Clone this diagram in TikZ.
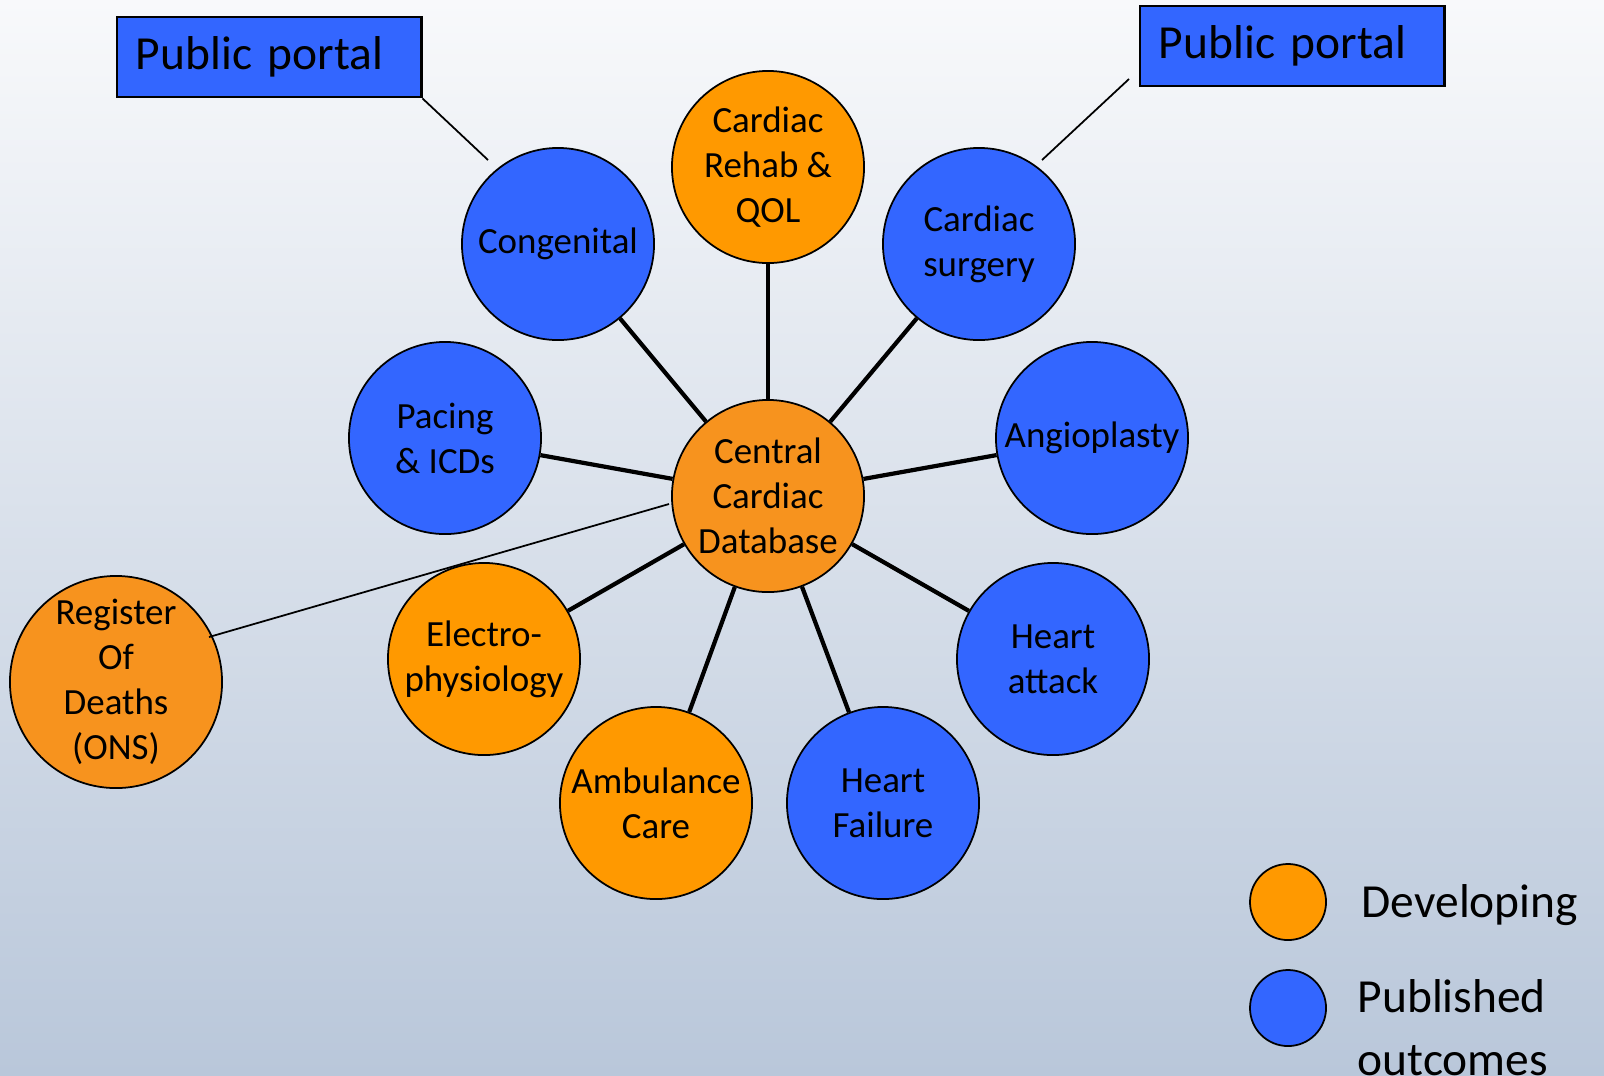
\documentclass[tikz,border=0pt]{standalone}
\usepackage{fontspec}
\setmainfont{Carlito}
\usepackage{tikz}
\usetikzlibrary{positioning}
\definecolor{pubblue}{HTML}{3366FF}
\definecolor{devorange}{HTML}{FF9900}
\definecolor{dborange}{HTML}{F7931E}
\definecolor{bgtop}{HTML}{F8F9FB}
\definecolor{bgbottom}{HTML}{B9C7DA}
\tikzstyle{topic} = [circle, draw=black, line width=0.5pt, minimum size=1.92cm, inner sep=0pt, align=center, font=\fontsize{10.5}{12.8}\selectfont]
\tikzstyle{published} = [topic, fill=pubblue]
\tikzstyle{developing} = [topic, fill=devorange]
\tikzstyle{central} = [topic, fill=dborange]
\tikzstyle{portal} = [rectangle, draw=black, line width=0.8pt, fill=pubblue, inner xsep=0.19cm, text width=2.66cm, align=left, minimum height=0.8cm, font=\fontsize{13.5}{16}\selectfont]
\tikzstyle{legenddot} = [circle, draw=black, line width=0.5pt, minimum size=0.76cm, inner sep=0pt]
\tikzstyle{legendtext} = [anchor=west, inner sep=0pt, align=left, font=\fontsize{13.5}{18}\selectfont]
\tikzstyle{spoke} = [line width=1.2pt]
\tikzstyle{link} = [line width=0.5pt]

\begin{document}
\begin{tikzpicture}[x=0.01cm, y=-0.01cm]

% Background
\shade[top color=bgtop, bottom color=bgbottom] (0,0) rectangle (1604,1075);
\useasboundingbox (0,0) rectangle (1604,1075);
\clip (0,0) rectangle (1604,1075);

% Central box
\node (db) [central] at (768,496) {Central\\Cardiac\\Database};

% Ring of registries
\node (rehab) [developing] at (768,167) {Cardiac\\Rehab \&\\QOL};
\node (cong) [published] at (558,244) {Congenital};
\node (surg) [published] at (979,244) {Cardiac\\surgery};
\node (pace) [published] at (445,438) {Pacing\\\& ICDs};
\node (angio) [published] at (1092,438) {Angioplasty};
\node (ep) [developing] at (484,659) {Electro-\\physiology};
\node (mi) [published] at (1053,659) {Heart\\attack};
\node (amb) [developing] at (656,803) {Ambulance\\Care};
\node (hf) [published] at (883,803) {Heart\\Failure};
\node (ons) [central, minimum size=2.12cm] at (116,682) {Register\\Of\\Deaths\\(ONS)};

% Public portals
\node (portalL) [portal] at (269,57) {Public portal};
\node (portalR) [portal] at (1292,46) {Public portal};
\coordinate (congtip) at (488,160);
\coordinate (surgtip) at (1042,160);
\coordinate (portalRtip) at (1129,79);
\coordinate (dbtip) at (669,504);
\coordinate (onstip) at (209,637);

% Spokes
\foreach \n in {rehab,cong,surg,pace,angio,ep,mi,amb,hf}
  \draw [spoke] (db) -- (\n);

% Thin links
\draw [link] (portalL.south east) -- (congtip);
\draw [link] (portalRtip) -- (surgtip);
\draw [link] (dbtip) -- (onstip);

% Legend
\node (legdev) [legenddot, fill=devorange] at (1288,902) {};
\node (legpub) [legenddot, fill=pubblue] at (1288,1008) {};
\node (legdevtxt) [legendtext] at (1361,905) {Developing};
\node (legpubtxt) [legendtext, anchor=north west] at (1357,979) {Published\\outcomes};

\end{tikzpicture}
\end{document}
